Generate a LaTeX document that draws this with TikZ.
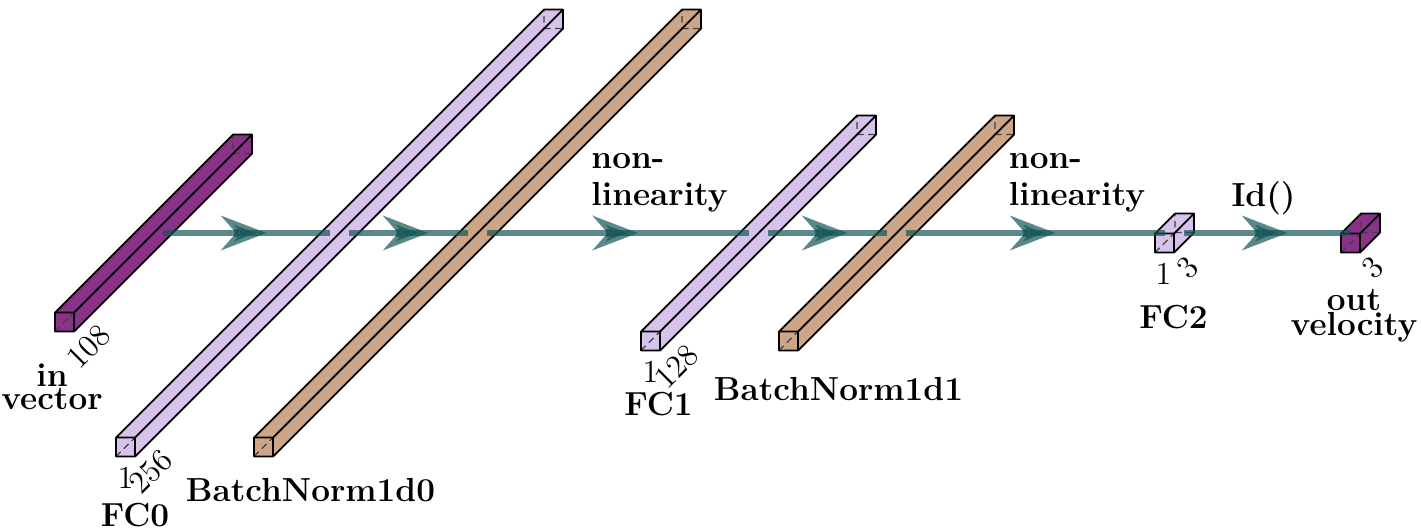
\documentclass[tikz,border=0pt]{standalone}
\usepackage{tikz}
\usetikzlibrary{arrows.meta,calc,decorations.markings}
\definecolor{edgecol}{rgb}{0.083,0.333,0.333}
\definecolor{iofill}{RGB}{136,51,136}
\definecolor{fcfill}{RGB}{214,194,235}
\definecolor{bnfill}{RGB}{205,165,135}

\begin{document}
\begin{tikzpicture}[
  x=0.45pt,y=0.45pt,z={(-0.45pt,-0.45pt)},
  boxline/.style={line width=0.8pt,black,line join=round},
  hiddenline/.style={densely dashed,line width=0.5pt,black!75},
  midtip/.style={line width=3.6pt,draw=edgecol,opacity=0.7,-{Stealth[length=20.25pt,width=15.3pt]}},
  conn/.style={line width=2.7pt,draw=edgecol,opacity=0.7,postaction={decorate},
    decoration={markings,mark=at position 0.5 with {\draw[midtip] (-5.5pt,0) -- (9pt,0);}}},
  numlab/.style={font=\Large,inner sep=0pt},
  caplab/.style={font=\fontsize{15}{18}\selectfont\bfseries,inner sep=0pt,align=center},
  oplab/.style={font=\fontsize{15}{18}\selectfont\bfseries,inner sep=0pt,align=left},
  pics/layerbox/.style n args={2}{code={
    \fill[#2] (0,-9.5,#1) -- (19,-9.5,#1) -- (19,9.5,#1) -- (0,9.5,#1) -- cycle;
    \fill[#2] (0,9.5,#1) -- (19,9.5,#1) -- (19,9.5,-#1) -- (0,9.5,-#1) -- cycle;
    \fill[#2] (19,-9.5,#1) -- (19,-9.5,-#1) -- (19,9.5,-#1) -- (19,9.5,#1) -- cycle;
    \draw[hiddenline] (0,-9.5,#1) -- (0,-9.5,-#1) -- (0,9.5,-#1) (0,-9.5,-#1) -- (19,-9.5,-#1);
    \draw[boxline] (0,-9.5,#1) -- (19,-9.5,#1) -- (19,9.5,#1) -- (0,9.5,#1) -- cycle
      (0,9.5,#1) -- (0,9.5,-#1) -- (19,9.5,-#1) -- (19,-9.5,-#1) -- (19,-9.5,#1)
      (19,9.5,#1) -- (19,9.5,-#1);
    \coordinate (-west) at (0,0,0);
    \coordinate (-east) at (19,0,0);
    \coordinate (-bot) at (9.5,-9.5,#1);
    \coordinate (-corner) at (19,-9.5,#1);
  }}]
  \useasboundingbox (0,-298) rectangle (1421,233);
  % layers
  \pic (in) at (144,0) {layerbox={89}{iofill}};
  \pic (fc0) at (330,0) {layerbox={214}{fcfill}};
  \pic (bn0) at (468,0) {layerbox={214}{bnfill}};
  \pic (fc1) at (749,0) {layerbox={108}{fcfill}};
  \pic (bn1) at (887,0) {layerbox={108}{bnfill}};
  \pic (fc2) at (1165,0) {layerbox={10}{fcfill}};
  \pic (out) at (1351,0) {layerbox={10}{iofill}};
  % sizes
  \node[numlab,rotate=45] (in-z) at ($(in-corner)+(15,-15)$) {108};
  \node[numlab,anchor=base] (fc0-x) at ($(fc0-bot)+(0,-32)$) {1};
  \node[numlab,rotate=45] (fc0-z) at ($(fc0-corner)+(16,-15)$) {256};
  \node[numlab,anchor=base] (fc1-x) at ($(fc1-bot)+(0,-32)$) {1};
  \node[numlab,rotate=45] (fc1-z) at ($(fc1-corner)+(17,-16)$) {128};
  \node[numlab,anchor=base] (fc2-x) at ($(fc2-bot)+(-1,-32)$) {1};
  \node[numlab,rotate=45] (fc2-z) at ($(fc2-corner)+(14,-15)$) {3};
  \node[numlab,rotate=45] (out-z) at ($(out-corner)+(13,-15)$) {3};
  % captions
  \node[caplab,anchor=south] (in-cap) at ($(in-bot)+(-12.5,-78.5)$) {in\\[-7.5pt]vector};
  \node[caplab,anchor=base] (fc0-cap) at ($(fc0-bot)+(9.5,-70)$) {FC0};
  \node[caplab,anchor=base] (bn0-cap) at ($(bn0-bot)+(47,-45)$) {BatchNorm1d0};
  \node[caplab,anchor=base] (fc1-cap) at ($(fc1-bot)+(8,-64.5)$) {FC1};
  \node[caplab,anchor=base] (bn1-cap) at ($(bn1-bot)+(50,-49.5)$) {BatchNorm1d1};
  \node[caplab,anchor=base] (fc2-cap) at ($(fc2-bot)+(9,-75.5)$) {FC2};
  \node[caplab,anchor=south] (out-cap) at ($(out-bot)+(3.5,-90.5)$) {out\\[-6.75pt]velocity};
  % connections
  \draw[conn] (in-east) -- coordinate[midway] (m1) (fc0-west);
  \draw[conn] (fc0-east) -- coordinate[midway] (m2) (bn0-west);
  \draw[conn] (bn0-east) -- coordinate[midway] (m3) (fc1-west);
  \draw[conn] (fc1-east) -- coordinate[midway] (m4) (bn1-west);
  \draw[conn] (bn1-east) -- coordinate[midway] (m5) (fc2-west);
  \draw[conn] (fc2-east) -- coordinate[midway] (m6) (out-west);
  \node[oplab,anchor=south west] (act0) at ($(m3)+(-27,20)$) {non-\\[-1.1pt]linearity};
  \node[oplab,anchor=south west] (act1) at ($(m5)+(-27,20)$) {non-\\[-1.1pt]linearity};
  \node[caplab,anchor=base] (ident) at ($(m6)+(-4,26.3)$) {Id()};
\end{tikzpicture}
\end{document}
